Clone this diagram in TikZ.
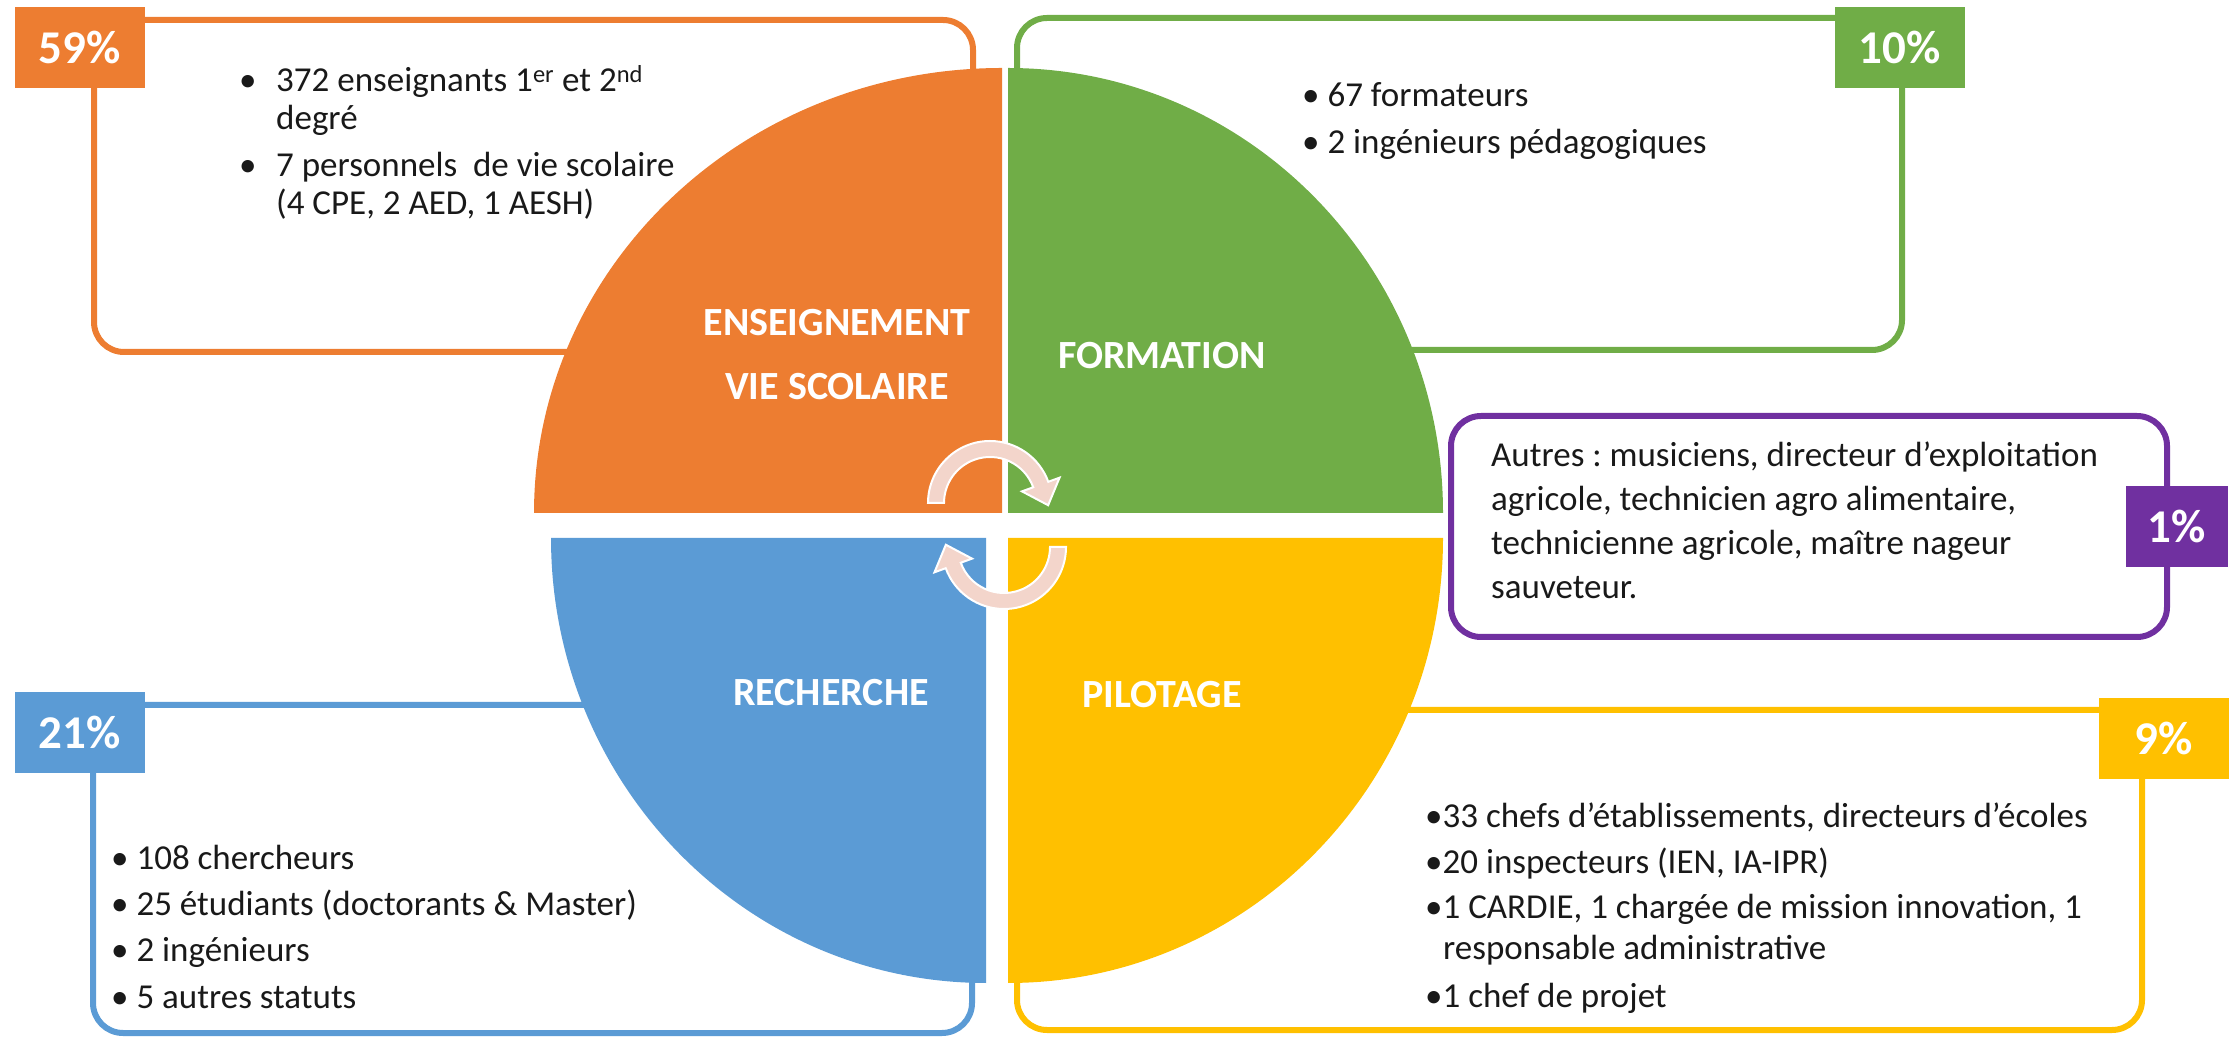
\documentclass[tikz,border=0pt]{standalone}
\usepackage{fontspec}
\setmainfont{Carlito}
\frenchspacing
\definecolor{orangeA}{HTML}{ED7D31}
\definecolor{greenA}{HTML}{70AD47}
\definecolor{blueA}{HTML}{5B9BD5}
\definecolor{yellowA}{HTML}{FFC000}
\definecolor{purpleA}{HTML}{7030A0}
\definecolor{pinkA}{HTML}{F3D5CB}
\begin{document}
\begin{tikzpicture}[x=1pt, y=1pt,
		box/.style={draw=#1, line width=6pt, rounded corners=30pt, inner sep=0pt, outer sep=0pt},
		tag/.style={fill=#1, text=white, font=\fontsize{47}{47}\selectfont\bfseries, minimum width=130pt, minimum height=81pt, inner sep=0pt},
		sector/.style={fill=#1},
		title/.style={text=white, font=\fontsize{40}{64}\selectfont\bfseries, align=center},
		txt/.style={anchor=base west, inner sep=0pt, align=left, text=black!90, font=\fontsize{35}{#1}\selectfont},
		turn/.style={fill=pinkA, draw=white, line width=2pt},
	]
		\useasboundingbox (0,0) rectangle (2240,1036);
		
		\node (ensbox) [box=orangeA, minimum width=879pt, minimum height=332pt] at (533.5,850) {};
		\node (forbox) [box=greenA, minimum width=885pt, minimum height=332pt] at (1459.5,852) {};
		\node (autbox) [box=purpleA, minimum width=716pt, minimum height=221pt] at (1809,509.5) {};
		\node (pilbox) [box=yellowA, minimum width=1125pt, minimum height=320pt] at (1579.5,166) {};
		\node (recbox) [box=blueA, minimum width=879pt, minimum height=328pt] at (532.5,167) {};
		
		\path[sector=orangeA] (1002,523) -- (534,523) arc[start angle=180, end angle=90, x radius=468, y radius=445] -- cycle;
		\path[sector=greenA] (1008,523) -- (1008,968) arc[start angle=90, end angle=0, x radius=435, y radius=445] -- cycle;
		\path[sector=blueA] (986,498) -- (551,498) arc[start angle=180, end angle=270, x radius=435, y radius=445] -- cycle;
		\path[sector=yellowA] (1008,498) -- (1443,498) arc[start angle=0, end angle=-90, x radius=435, y radius=445] -- cycle;
		
		\node (ens) [title] at (837,681) {ENSEIGNEMENT\\VIE SCOLAIRE};
		\node (for) [title] at (1162,680) {FORMATION};
		\node (rec) [title] at (831,343) {RECHERCHE};
		\node (pil) [title] at (1162,341) {PILOTAGE};
		
		\foreach \cx/\cy/\rot in {990/533/0, 1004/489/180}
			\path[turn, shift={(\cx,\cy)}, rotate=\rot] (180:62) arc[start angle=180, end angle=20, radius=62] -- (20:74) -- (-2.2:58.2) -- (20:34) -- (20:46) arc[start angle=20, end angle=180, radius=46] -- cycle;
		
		\node (pens) [tag=orangeA] at ([shift={(-14.5,-27.5)}]ensbox.north west) {59\%};
		\node (pfor) [tag=greenA] at ([shift={(-2.5,-29.5)}]forbox.north east) {10\%};
		\node (paut) [tag=purpleA, minimum width=102pt] at ([shift={(10,0)}]autbox.east) {1\%};
		\node (ppil) [tag=yellowA] at ([shift={(21.5,-28.5)}]pilbox.north east) {9\%};
		\node (prec) [tag=blueA] at ([shift={(-13.5,-27.5)}]recbox.north west) {21\%};
		
		% base anchor sits on the last line
		\node (enstxt) [txt=38] at (239,821) {\makebox[37pt][l]{•}372 enseignants 1\textsuperscript{er} et 2\textsuperscript{nd}\\\hspace*{37pt}degré\\[9pt]\makebox[37pt][l]{•}7 personnels~ de vie scolaire\\\hspace*{37pt}(4 CPE, 2 AED, 1 AESH)};
		\node (fortxt) [txt=47] at (1302,882) {• 67 formateurs\\• 2 ingénieurs pédagogiques};
		\node (auttxt) [txt=44] at (1491,437) {Autres : musiciens, directeur d’exploitation\\agricole, technicien agro alimentaire,\\technicienne agricole, maître nageur\\sauveteur.};
		\node (piltxt) [txt=40] at (1425,29) {•33 chefs d’établissements, directeurs d’écoles\\[6pt]•20 inspecteurs (IEN, IA-IPR)\\[6pt]•1 CARDIE, 1 chargée de mission innovation, 1\\\hspace*{18pt}responsable administrative\\[8pt]•1 chef de projet};
		\node (rectxt) [txt=46] at (111,28) {• 108 chercheurs\\• 25 étudiants (doctorants \& Master)\\• 2 ingénieurs\\• 5 autres statuts};
	\end{tikzpicture}
\end{document}
